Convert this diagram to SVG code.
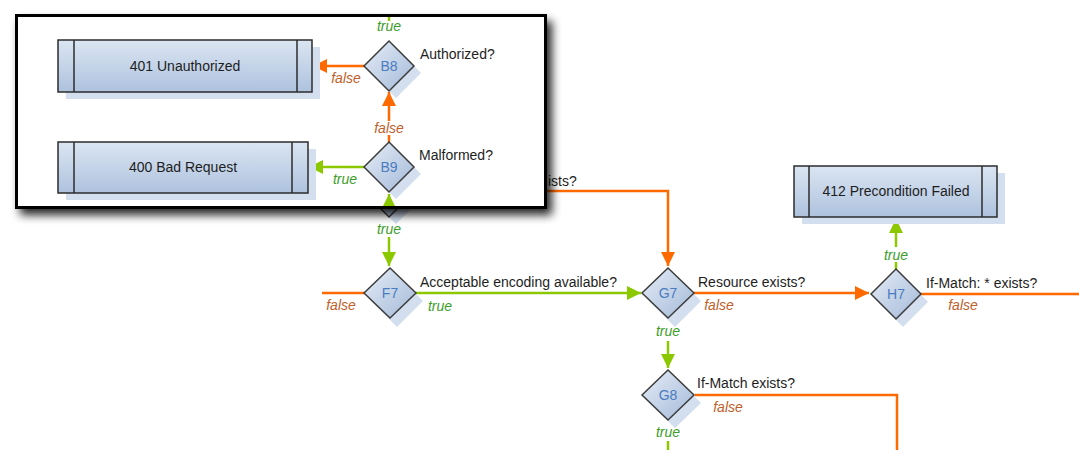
<svg xmlns="http://www.w3.org/2000/svg" width="1079" height="450" viewBox="0 0 1079 450">
<defs>
<linearGradient id="gNode" x1="0" y1="0" x2="1" y2="1">
<stop offset="0" stop-color="#e6edf7"/>
<stop offset="1" stop-color="#a3b9d8"/>
</linearGradient>
<linearGradient id="gBox" x1="0" y1="0" x2="0" y2="1">
<stop offset="0" stop-color="#dbe5f2"/>
<stop offset="1" stop-color="#aec2de"/>
</linearGradient>
<filter id="fShadow" x="-10%" y="-10%" width="130%" height="140%">
<feGaussianBlur stdDeviation="5"/>
</filter>
<marker id="aG" markerUnits="userSpaceOnUse" markerWidth="16" markerHeight="16" viewBox="0 0 16 16" refX="14" refY="8" orient="auto">
<path d="M0,1 L14,8 L0,15 Z" fill="#8cc800"/>
</marker>
<marker id="aO" markerUnits="userSpaceOnUse" markerWidth="16" markerHeight="16" viewBox="0 0 16 16" refX="14" refY="8" orient="auto">
<path d="M0,1 L14,8 L0,15 Z" fill="#ff6a00"/>
</marker>
</defs>
<style>
.lg{fill:none;stroke:#8cc800;stroke-width:2.5}
.lo{fill:none;stroke:#ff6a00;stroke-width:2.5}
.dia{fill:url(#gNode);stroke:#3d3d3d;stroke-width:1.5}
.box{fill:url(#gBox);stroke:#2d2d2d;stroke-width:1.5}
.sh{fill:#d3deef}
.bar{stroke:#2d2d2d;stroke-width:1.5}
.id{font-family:"Liberation Sans",Arial,sans-serif;font-size:14px;fill:#4a7cc0;text-anchor:middle}
.bt{font-family:"Liberation Sans",Arial,sans-serif;font-size:14px;fill:#1e1e1e;text-anchor:middle}
.q{font-family:"Liberation Sans",Arial,sans-serif;font-size:14px;fill:#1e1e1e}
.t{font-family:"Liberation Sans",Arial,sans-serif;font-size:14px;font-style:italic;fill:#3c9e2a;text-anchor:middle}
.f{font-family:"Liberation Sans",Arial,sans-serif;font-size:14px;font-style:italic;fill:#c0602a;text-anchor:middle}
</style>
<rect width="1079" height="450" fill="#ffffff"/>

<!-- main diagram connectors -->
<g id="connectors-main">
<path class="lo" d="M414,191 H668 V266" marker-end="url(#aO)"/>
<path class="lg" d="M389,237 V266" marker-end="url(#aG)"/>
<path class="lo" d="M322,293 H364"/>
<path class="lg" d="M416,293 H641" marker-end="url(#aG)"/>
<path class="lo" d="M694,293 H869" marker-end="url(#aO)"/>
<path class="lg" d="M896,269 V262"/>
<path class="lg" d="M896,247 V219" marker-end="url(#aG)"/>
<path class="lo" d="M921,294 H1079"/>
<path class="lg" d="M668,341 V368" marker-end="url(#aG)"/>
<path class="lo" d="M695,395 H897 V450"/>
<path class="lg" d="M668,441 V450"/>
<text class="q" x="548" y="186">ists?</text>
<text class="t" x="389" y="234">true</text>
<text class="f" x="341" y="310">false</text>
<text class="q" x="420" y="287">Acceptable encoding available?</text>
<text class="t" x="440" y="311">true</text>
<text class="q" x="698" y="287">Resource exists?</text>
<text class="f" x="719" y="310">false</text>
<text class="t" x="896" y="260">true</text>
<text class="q" x="926" y="288">If-Match: * exists?</text>
<text class="f" x="963" y="310">false</text>
<text class="t" x="668" y="336">true</text>
<text class="q" x="697" y="388">If-Match exists?</text>
<text class="f" x="728" y="412">false</text>
<text class="t" x="668" y="437">true</text>
</g>

<g id="node-hidden">
<path class="sh" d="M396,174 L421,199 L396,224 L371,199 Z"/>
<path class="dia" d="M389,167 L414,192 L389,217 L364,192 Z"/>
</g>
<g id="node-F7">
<path class="sh" d="M397,275 L423,301 L397,327 L371,301 Z"/>
<path class="dia" d="M390,268 L416,293 L390,318 L364,293 Z"/>
<text class="id" x="390" y="298">F7</text>
</g>
<g id="node-G7">
<path class="sh" d="M675,275 L701,301 L675,327 L649,301 Z"/>
<path class="dia" d="M668,268 L694,293 L668,318 L642,293 Z"/>
<text class="id" x="668" y="298">G7</text>
</g>
<g id="node-H7">
<path class="sh" d="M903,276 L928,302 L903,327 L878,302 Z"/>
<path class="dia" d="M896,269 L921,294 L896,319 L871,294 Z"/>
<text class="id" x="896" y="299">H7</text>
</g>
<g id="node-G8">
<path class="sh" d="M675,377 L701,403 L675,428 L649,403 Z"/>
<path class="dia" d="M668,370 L694,395 L668,420 L642,395 Z"/>
<text class="id" x="668" y="400">G8</text>
</g>
<g id="node-412">
<rect class="sh" x="802" y="173" width="203" height="51"/>
<rect class="box" x="794" y="166" width="203" height="51"/>
<line class="bar" x1="809" y1="166" x2="809" y2="217"/>
<line class="bar" x1="982" y1="166" x2="982" y2="217"/>
<text class="bt" x="896" y="196">412 Precondition Failed</text>
</g>

<!-- inset frame -->
<g id="inset-frame">
<rect x="20" y="21" width="532" height="194" fill="#000000" opacity="0.85" filter="url(#fShadow)"/>
<rect x="16.5" y="15.5" width="529" height="192" fill="#ffffff" stroke="#000000" stroke-width="3"/>
</g>

<g id="connectors-inset">
<path class="lg" d="M389,17 V21"/>
<text class="t" x="389" y="31">true</text>
<path class="lo" d="M364,66 H313" marker-end="url(#aO)"/>
<text class="f" x="346" y="83">false</text>
<path class="lo" d="M389,142 V135"/>
<text class="f" x="389" y="133">false</text>
<path class="lo" d="M389,121 V92" marker-end="url(#aO)"/>
<path class="lg" d="M364,167 H309" marker-end="url(#aG)"/>
<text class="t" x="345" y="184">true</text>
<path class="lg" d="M389,206 V194" marker-end="url(#aG)"/>
</g>

<g id="node-401">
<rect class="sh" x="66" y="47" width="254" height="52"/>
<rect class="box" x="58" y="40" width="254" height="52"/>
<line class="bar" x1="74" y1="40" x2="74" y2="92"/>
<line class="bar" x1="297" y1="40" x2="297" y2="92"/>
<text class="bt" x="185" y="71">401 Unauthorized</text>
</g>
<g id="node-400">
<rect class="sh" x="66" y="149" width="250" height="51"/>
<rect class="box" x="58" y="142" width="250" height="51"/>
<line class="bar" x1="74" y1="142" x2="74" y2="193"/>
<line class="bar" x1="292" y1="142" x2="292" y2="193"/>
<text class="bt" x="183" y="172">400 Bad Request</text>
</g>
<g id="node-B8">
<path class="sh" d="M396,48 L421,73 L396,98 L371,73 Z"/>
<path class="dia" d="M389,41 L414,66 L389,91 L364,66 Z"/>
<text class="id" x="389" y="71">B8</text>
<text class="q" x="420" y="59">Authorized?</text>
</g>
<g id="node-B9">
<path class="sh" d="M396,149 L421,174 L396,199 L371,174 Z"/>
<path class="dia" d="M389,142 L414,167 L389,192 L364,167 Z"/>
<text class="id" x="389" y="172">B9</text>
<text class="q" x="419" y="160">Malformed?</text>
</g>
<rect x="16.5" y="15.5" width="529" height="192" fill="none" stroke="#000000" stroke-width="3"/>
</svg>
